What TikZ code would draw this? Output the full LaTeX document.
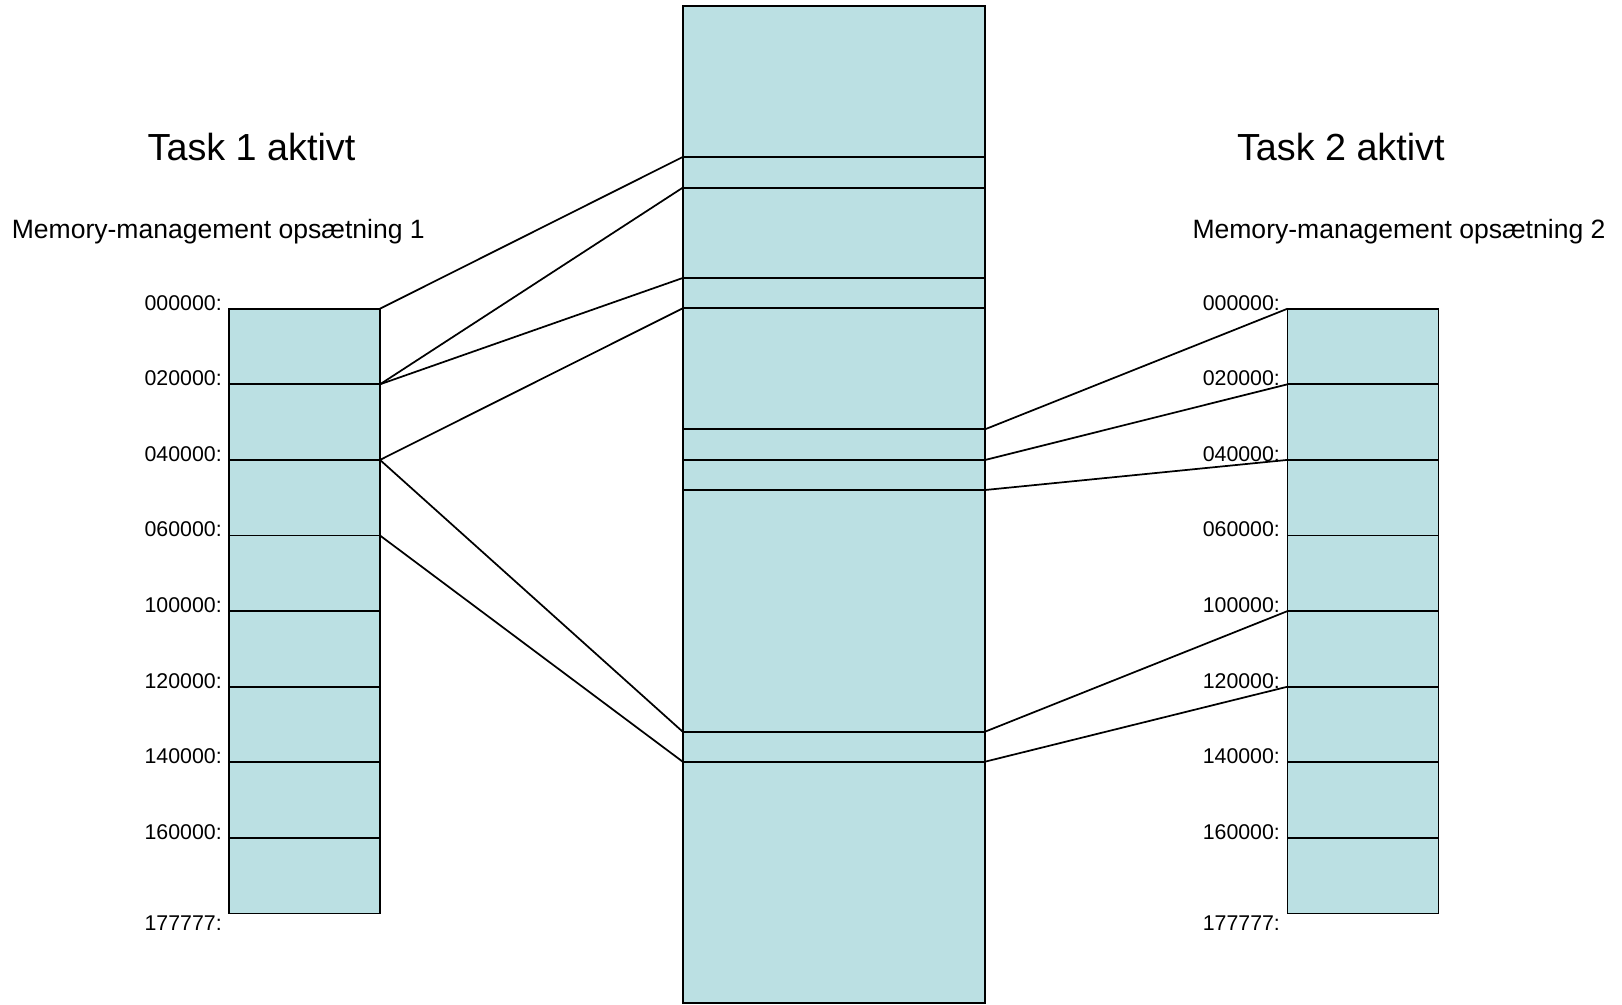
\documentclass[tikz,border=0pt]{standalone}
\usepackage{fontspec}
\setmainfont{Liberation Sans}
\usetikzlibrary{fit}
\definecolor{memfill}{RGB}{187,224,227}
\tikzset{
  seg/.style={draw=black, fill=memfill, line width=1.4pt, inner sep=0pt, outer sep=0pt},
  link/.style={draw=black, line width=1.3pt},
  addr/.style={anchor=base east, inner sep=0pt, font=\fontsize{16pt}{18pt}\selectfont},
  title/.style={anchor=base, inner sep=0pt, font=\fontsize{28.3pt}{32pt}\selectfont},
  subtitle/.style={anchor=base, inner sep=0pt, font=\fontsize{19.9pt}{22pt}\selectfont}
}
\begin{document}
\begin{tikzpicture}[x=0.75pt, y=-0.75pt]
\useasboundingbox (0,0) rectangle (1622,1004);
% titles
\node[title] (t1) at (251.5,160) {Task 1 aktivt};
\node[title] (t2) at (1340.8,160) {Task 2 aktivt};
\node[subtitle] (s1) at (218.3,238.3) {Memory-management opsætning 1};
\node[subtitle] (s2) at (1399,238.3) {Memory-management opsætning 2};
% central memory
\node[seg, fit={(682.7,6) (985,157)}] (M1) {};
\node[seg, fit={(682.7,157) (985,187.7)}] (M2) {};
\node[seg, fit={(682.7,187.7) (985,278)}] (M3) {};
\node[seg, fit={(682.7,278) (985,308.3)}] (M4) {};
\node[seg, fit={(682.7,308.3) (985,429.3)}] (M5) {};
\node[seg, fit={(682.7,429.3) (985,460)}] (M6) {};
\node[seg, fit={(682.7,460) (985,490)}] (M7) {};
\node[seg, fit={(682.7,490) (985,731.7)}] (M8) {};
\node[seg, fit={(682.7,731.7) (985,761.7)}] (M9) {};
\node[seg, fit={(682.7,761.7) (985,1003.3)}] (M10) {};
% left and right task boxes
\foreach \i/\ya/\yb in {1/308.7/384.3, 2/384.3/459.9, 3/459.9/535.5, 4/535.5/611.1, 5/611.1/686.7, 6/686.7/762.3, 7/762.3/837.9, 8/837.9/913.5} {
  \node[seg, fit={(229.3,\ya) (380,\yb)}] (L\i) {};
  \node[seg, fit={(1287.5,\ya) (1438.5,\yb)}] (R\i) {};
}
% address labels
\foreach \i/\lab in {1/000000:, 2/020000:, 3/040000:, 4/060000:, 5/100000:, 6/120000:, 7/140000:, 8/160000:} {
  \node[addr] (la\i) at ([xshift=-5.5pt,yshift=-1pt]L\i.north west) {\lab};
  \node[addr] (ra\i) at ([xshift=-5.5pt,yshift=-1pt]R\i.north west) {\lab};
}
\node[addr] (la9) at (222,930) {177777:};
\node[addr] (ra9) at (1280.2,930) {177777:};
% left connectors
\draw[link] (L1.north east) -- (M2.north west);
\draw[link] (L2.north east) -- (M3.north west);
\draw[link] (L2.north east) -- (M4.north west);
\draw[link] (L3.north east) -- (M5.north west);
\draw[link] (L3.north east) -- (M9.north west);
\draw[link] (L4.north east) -- (M10.north west);
% right connectors
\draw[link] (M6.north east) -- (R1.north west);
\draw[link] (M7.north east) -- (R2.north west);
\draw[link] (M8.north east) -- (R3.north west);
\draw[link] (M9.north east) -- (R5.north west);
\draw[link] (M10.north east) -- (R6.north west);
\end{tikzpicture}
\end{document}
